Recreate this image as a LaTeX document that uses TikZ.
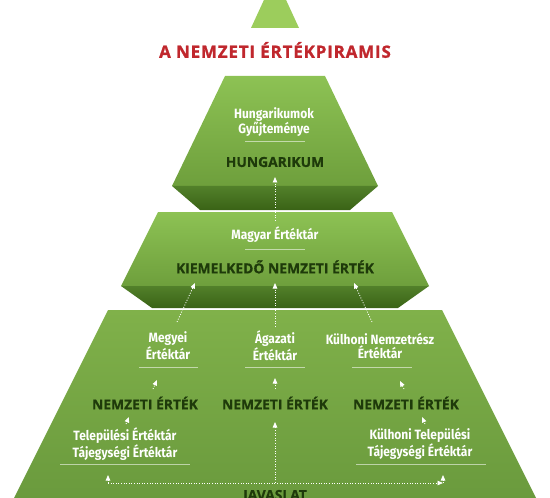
\documentclass[tikz,border=0pt]{standalone}
\usepackage{fontspec}
\usepackage{tikz}
\usetikzlibrary{arrows.meta,positioning,calc}
\newfontfamily\lightfont[FakeStretch=0.89]{Fira Sans}
\newfontfamily\darkfont[FakeBold=0.6]{Open Sans}
\newfontfamily\titlefont[LetterSpace=5,FakeBold=1.2]{Open Sans}
\definecolor{apexcol}{HTML}{9CCD5C}
\definecolor{lvltop}{HTML}{8DC254}
\definecolor{lvlbot}{HTML}{6E9F3C}
\definecolor{shelftop}{HTML}{52802A}
\definecolor{shelfbot}{HTML}{3A6316}
\definecolor{basetop}{HTML}{80B14A}
\definecolor{basebot}{HTML}{6A9A3D}
\definecolor{inkcol}{HTML}{1E3A0A}
\definecolor{titlecol}{HTML}{C0272D}

\begin{document}
\begin{tikzpicture}[
  x=1bp, y=-1bp,
  >={Triangle[width=4.5bp,length=5.5bp]},
  lighttext/.style={text=white, font=\lightfont\bfseries\fontsize{13.5}{15}\selectfont, align=center, inner sep=0pt},
  darktext/.style={text=inkcol, font=\darkfont\bfseries\fontsize{13.9}{15}\selectfont, inner sep=0pt},
  titletext/.style={text=titlecol, font=\titlefont\bfseries\fontsize{17}{18}\selectfont, inner sep=0pt},
  sepline/.style={white, opacity=0.55, line width=0.9bp},
  flow/.style={->, white, line width=0.8bp, dash pattern=on 1bp off 1.6bp}
]
\useasboundingbox (0,0) rectangle (550,498);
\clip (0,0) rectangle (550,498);

% pyramid blocks
\fill[apexcol] (275,-24) -- (299,28) -- (251,28) -- cycle;
\shade[top color=lvltop, bottom color=lvlbot] (225,76) -- (325,76) -- (378,186) -- (172,186) -- cycle;
\shade[top color=shelftop, bottom color=shelfbot] (172,186) -- (378,186) -- (350,210) -- (200,210) -- cycle;
\shade[top color=lvltop, bottom color=lvlbot] (158,212) -- (392,212) -- (429,286) -- (121,286) -- cycle;
\shade[top color=shelftop, bottom color=shelfbot] (121,286) -- (429,286) -- (398,308) -- (152,308) -- cycle;
\shade[top color=basetop, bottom color=basebot] (108,310) -- (442,310) -- (537,500) -- (13,500) -- cycle;

\node[titletext] (title) at (275,50) {A NEMZETI ÉRTÉKPIRAMIS};

% top level
\node[lighttext] (gyujt) at (274,122) {Hungarikumok\\Gyűjteménye};
\draw[sepline] (245,141) -- (305,141);
\node[darktext] (hung) at (275,162) {HUNGARIKUM};

% middle level
\node[lighttext] (magyar) at (275,235) {Magyar Értéktár};
\draw[sepline] (245,249) -- (305,249);
\node[darktext] (kiem) at (275,267) {KIEMELKEDŐ NEMZETI ÉRTÉK};

% base level
\node[lighttext] (megyei) at (168,346) {Megyei\\Értéktár};
\node[lighttext] (agazati) at (275,346) {Ágazati\\Értéktár};
\node[lighttext] (nemzetresz) at (380,346) {Külhoni Nemzetrész\\Értéktár};
\draw[sepline] (139,367) -- (198,367);
\draw[sepline] (245,367) -- (305,367);
\draw[sepline] (352,367) -- (412,367);

\node[darktext] (nemL) at (145,403) {NEMZETI ÉRTÉK};
\node[darktext] (nemC) at (275,403) {NEMZETI ÉRTÉK};
\node[darktext] (nemR) at (406,403) {NEMZETI ÉRTÉK};

\node[lighttext] (telep) at (125,444) {Települési Értéktár\\Tájegységi Értéktár};
\node[lighttext] (kulhtelep) at (420,444) {Külhoni Települési\\Tájegységi Értéktár};
\draw[sepline] (60,464) -- (190,464);
\draw[sepline] (356,464) -- (486,464);

\node[darktext, anchor=base] (javaslat) at (275,500) {JAVASLAT};

% flow arrows
\coordinate (hungIn) at (275,177);
\coordinate (kiemOut) at (275,221);
\draw[flow] (kiemOut) -- (hungIn);

\coordinate (kiemInL) at (195,283);
\coordinate (kiemInC) at (275,283);
\coordinate (kiemInR) at (354,283);
\coordinate (megyeiOut) at (177,322);
\coordinate (agazatiOut) at (275,327);
\coordinate (nemzetreszOut) at (372,322);
\draw[flow] (megyeiOut) -- (kiemInL);
\draw[flow] (agazatiOut) -- (kiemInC);
\draw[flow] (nemzetreszOut) -- (kiemInR);

\coordinate (megyeiIn) at (157,380);
\coordinate (nemLOut) at (153,389);
\coordinate (nemLIn) at (129,417);
\coordinate (telepOut) at (126,424);
\draw[flow] (nemLOut) -- (megyeiIn);
\draw[flow] (telepOut) -- (nemLIn);

\coordinate (agazatiIn) at (275,378);
\coordinate (nemCOut) at (275,389);
\coordinate (nemCIn) at (275,422);
\coordinate (javC) at (275,483);
\draw[flow] (nemCOut) -- (agazatiIn);
\draw[flow] (javC) -- (nemCIn);

\coordinate (nemzetreszIn) at (400,381);
\coordinate (nemROut) at (404,389);
\coordinate (nemRIn) at (422,417);
\coordinate (kulhOut) at (425,424);
\draw[flow] (nemROut) -- (nemzetreszIn);
\draw[flow] (kulhOut) -- (nemRIn);

\coordinate (javL) at (108,483);
\coordinate (javR) at (443,483);
\coordinate (telepIn) at (108,475);
\coordinate (kulhtelepIn) at (443,475);
\draw[flow] (javL) -- (javR);
\draw[flow] (javL) -- (telepIn);
\draw[flow] (javR) -- (kulhtelepIn);
\end{tikzpicture}
\end{document}
